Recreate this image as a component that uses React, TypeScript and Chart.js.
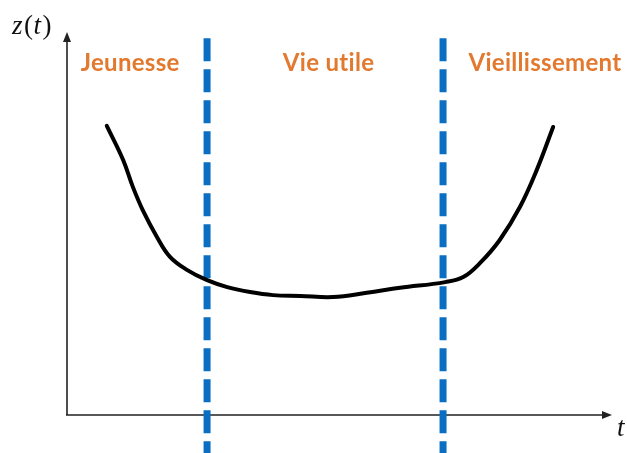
import React, { useEffect, useRef } from "react";
import { Chart, registerables } from "chart.js";

Chart.register(...registerables);

// Bathtub curve z(t), t and z in arbitrary units (0..10)
const curveT = [0.73, 1.03, 1.21, 1.39, 1.65, 1.89, 2.2, 2.57, 2.94, 3.36, 3.78, 4.28, 4.88, 5.5, 6.11, 6.94, 7.27, 7.58, 7.94, 8.31, 8.62, 8.92];
const curveZ = [7.55, 6.66, 5.95, 5.35, 4.65, 4.13, 3.79, 3.52, 3.34, 3.21, 3.13, 3.11, 3.08, 3.19, 3.32, 3.47, 3.6, 3.97, 4.57, 5.43, 6.4, 7.52];

// Phase boundaries (t values)
const boundaries = [2.57, 6.9];
const boundaryZ = [9.84, -1.0];

// Phase labels and their centre positions on t
const phaseLabels = ["Jeunesse", "Vie utile", "Vieillissement"];
const phaseLabelT = [1.16, 4.8, 8.77];
const phaseLabelZ = 9.0;

const xAxisLabel = "t";

const ORANGE = "#E2792E";
const BLUE = "#0A6FC2";

export default function App() {
  const ref = useRef<HTMLCanvasElement | null>(null);
  useEffect(() => {
    if (!ref.current) return;
    const decor = {
      id: "decor",
      beforeDatasetsDraw(chart: any) {
        const { ctx, chartArea } = chart;
        const { left, right, top, bottom } = chartArea;
        ctx.save();
        ctx.strokeStyle = "#222";
        ctx.fillStyle = "#222";
        ctx.lineWidth = 1.6;
        ctx.beginPath();
        ctx.moveTo(left, bottom);
        ctx.lineTo(left, top + 6);
        ctx.moveTo(left - 1, bottom);
        ctx.lineTo(right - 6, bottom);
        ctx.stroke();
        // arrow heads
        ctx.beginPath();
        ctx.moveTo(left, top);
        ctx.lineTo(left - 4, top + 10);
        ctx.lineTo(left + 4, top + 10);
        ctx.closePath();
        ctx.fill();
        ctx.beginPath();
        ctx.moveTo(right, bottom);
        ctx.lineTo(right - 10, bottom - 4);
        ctx.lineTo(right - 10, bottom + 4);
        ctx.closePath();
        ctx.fill();
        ctx.restore();
      },
      afterDraw(chart: any) {
        const { ctx, chartArea, scales } = chart;
        const { left, right, top, bottom } = chartArea;
        ctx.save();
        // phase labels
        ctx.fillStyle = ORANGE;
        ctx.font = "bold 24px Lato, 'Liberation Sans', sans-serif";
        try { (ctx as any).letterSpacing = "0.3px"; } catch (e) {}
        ctx.textAlign = "center";
        ctx.textBaseline = "alphabetic";
        phaseLabels.forEach((lab, i) => {
          ctx.fillText(lab, scales.x.getPixelForValue(phaseLabelT[i]), scales.y.getPixelForValue(phaseLabelZ) + 1);
        });
        try { (ctx as any).letterSpacing = "0px"; } catch (e) {}
        // y axis label z(t)
        ctx.fillStyle = "#111";
        ctx.textAlign = "left";
        const parts: [string, boolean][] = [["z", true], ["(", false], ["t", true], [")", false]];
        let x = left - 55;
        const by = top + 2;
        parts.forEach(([s, it]) => {
          ctx.font = (it ? "italic " : "") + "27px 'Liberation Serif', serif";
          ctx.fillText(s, x, by);
          x += ctx.measureText(s).width + (it ? 1.5 : 0.5);
        });
        // x axis label
        ctx.font = "italic 27px 'Liberation Serif', serif";
        ctx.fillText(xAxisLabel, right + 5, bottom + 21);
        ctx.restore();
      },
    };
    const chart = new Chart(ref.current, {
      type: "line",
      data: {
        datasets: [
          {
            data: curveT.map((t, i) => ({ x: t, y: curveZ[i] })),
            borderColor: "#000",
            borderWidth: 4,
            pointRadius: 0,
            tension: 0.4,
            fill: false,
            borderCapStyle: "round",
            order: 0,
          },
          ...boundaries.map((b) => ({
            data: boundaryZ.map((z) => ({ x: b, y: z })),
            borderColor: BLUE,
            borderWidth: 7,
            borderDash: [23, 8],
            borderCapStyle: "butt" as const,
            pointRadius: 0,
            clip: false as any,
            order: 1,
          })),
        ],
      },
      options: {
        responsive: false,
        animation: false,
        layout: { padding: { left: 67, right: 15, top: 32, bottom: 38 } },
        plugins: { legend: { display: false }, tooltip: { enabled: false } },
        scales: {
          x: { type: "linear", min: 0, max: 10, display: false },
          y: { type: "linear", min: 0, max: 10, display: false },
        },
      },
      plugins: [decor],
    });
    return () => chart.destroy();
  }, []);
  return (
    <div style={{ position: "absolute", left: 0, top: 0, width: 627, height: 453, background: "#fff" }}>
      <canvas ref={ref} width={627} height={453} />
    </div>
  );
}
